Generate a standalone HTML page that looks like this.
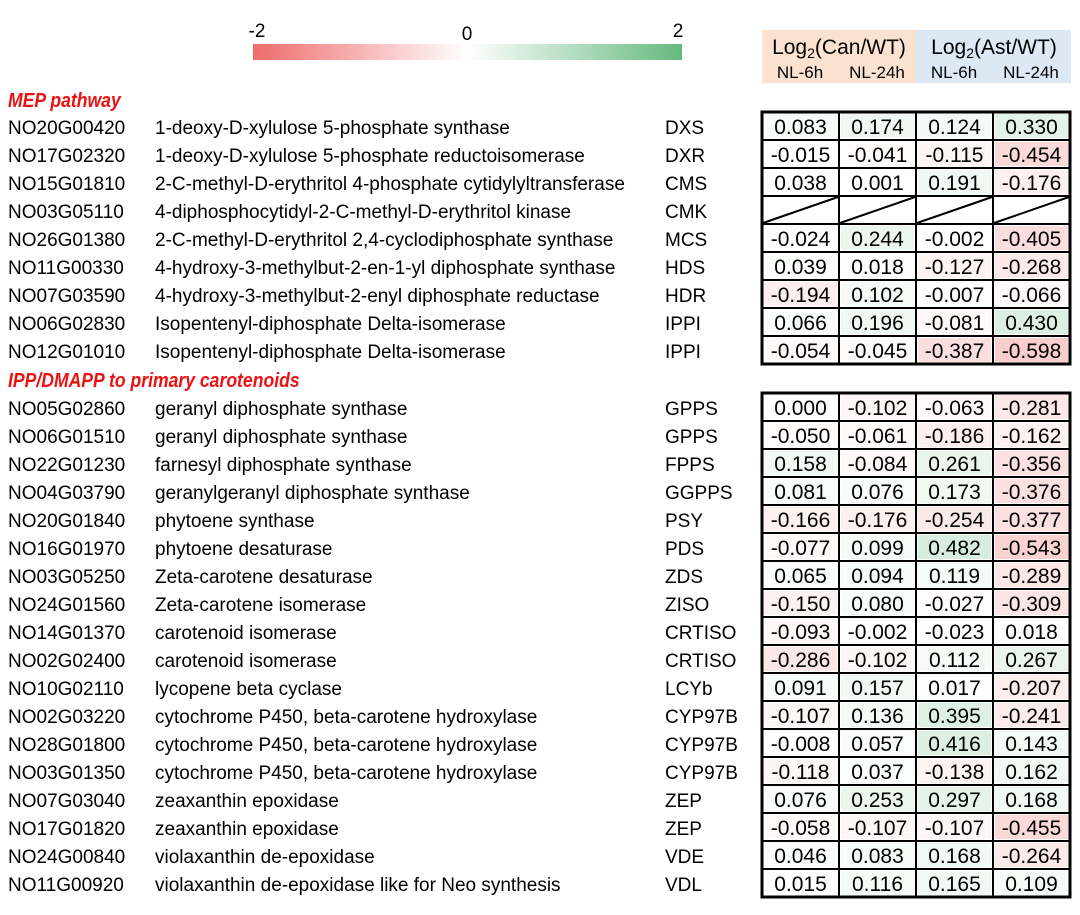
<!DOCTYPE html>
<html><head><meta charset="utf-8"><style>
html,body{margin:0;padding:0;background:#fff;}
body{width:1080px;height:910px;overflow:hidden;position:relative;font-family:"Liberation Sans",Arial,sans-serif;}
svg text{font-family:"Liberation Sans",Arial,sans-serif;}
</style></head><body>
<svg id="chart" width="1080" height="910" viewBox="0 0 1080 910" xmlns="http://www.w3.org/2000/svg">
<defs>
<linearGradient id="cbgrad" x1="0" x2="1" y1="0" y2="0">
<stop offset="0" stop-color="#ef6b6b"/><stop offset="0.5" stop-color="#ffffff"/><stop offset="1" stop-color="#66b97e"/>
</linearGradient>
</defs>
<g>
<rect x="253" y="44" width="429" height="16" fill="url(#cbgrad)"/>
<text x="257" y="37" font-size="19" text-anchor="middle">-2</text>
<text x="467" y="40" font-size="19" text-anchor="middle">0</text>
<text x="678" y="37" font-size="19" text-anchor="middle">2</text>
</g>
<g>
<rect x="762" y="30" width="154" height="53" fill="#fbe2d0"/>
<rect x="916" y="30" width="155" height="53" fill="#dde8f5"/>
<text x="839" y="54" font-size="21" text-anchor="middle">Log<tspan font-size="14" dy="4">2</tspan><tspan dy="-4">(Can/WT)</tspan></text>
<text x="994" y="54" font-size="21" text-anchor="middle">Log<tspan font-size="14" dy="4">2</tspan><tspan dy="-4">(Ast/WT)</tspan></text>
<text x="800" y="78" font-size="17" text-anchor="middle">NL-6h</text>
<text x="877" y="78" font-size="17" text-anchor="middle">NL-24h</text>
<text x="954" y="78" font-size="17" text-anchor="middle">NL-6h</text>
<text x="1031" y="78" font-size="17" text-anchor="middle">NL-24h</text>
</g>
<g id="content"></g>
</svg>
<script>
const mepIds = ["NO20G00420","NO17G02320","NO15G01810","NO03G05110","NO26G01380","NO11G00330","NO07G03590","NO06G02830","NO12G01010"];
const mepDesc = ["1-deoxy-D-xylulose 5-phosphate synthase","1-deoxy-D-xylulose 5-phosphate reductoisomerase","2-C-methyl-D-erythritol 4-phosphate cytidylyltransferase","4-diphosphocytidyl-2-C-methyl-D-erythritol kinase","2-C-methyl-D-erythritol 2,4-cyclodiphosphate synthase","4-hydroxy-3-methylbut-2-en-1-yl diphosphate synthase","4-hydroxy-3-methylbut-2-enyl diphosphate reductase","Isopentenyl-diphosphate Delta-isomerase","Isopentenyl-diphosphate Delta-isomerase"];
const mepGenes = ["DXS","DXR","CMS","CMK","MCS","HDS","HDR","IPPI","IPPI"];
const mepCan6 = [0.083,-0.015,0.038,null,-0.024,0.039,-0.194,0.066,-0.054];
const mepCan24 = [0.174,-0.041,0.001,null,0.244,0.018,0.102,0.196,-0.045];
const mepAst6 = [0.124,-0.115,0.191,null,-0.002,-0.127,-0.007,-0.081,-0.387];
const mepAst24 = [0.330,-0.454,-0.176,null,-0.405,-0.268,-0.066,0.430,-0.598];

const carIds = ["NO05G02860","NO06G01510","NO22G01230","NO04G03790","NO20G01840","NO16G01970","NO03G05250","NO24G01560","NO14G01370","NO02G02400","NO10G02110","NO02G03220","NO28G01800","NO03G01350","NO07G03040","NO17G01820","NO24G00840","NO11G00920"];
const carDesc = ["geranyl diphosphate synthase","geranyl diphosphate synthase","farnesyl diphosphate synthase","geranylgeranyl diphosphate synthase","phytoene synthase","phytoene desaturase","Zeta-carotene desaturase","Zeta-carotene isomerase","carotenoid isomerase","carotenoid isomerase","lycopene beta cyclase","cytochrome P450, beta-carotene hydroxylase","cytochrome P450, beta-carotene hydroxylase","cytochrome P450, beta-carotene hydroxylase","zeaxanthin epoxidase","zeaxanthin epoxidase","violaxanthin de-epoxidase","violaxanthin de-epoxidase like for Neo synthesis"];
const carGenes = ["GPPS","GPPS","FPPS","GGPPS","PSY","PDS","ZDS","ZISO","CRTISO","CRTISO","LCYb","CYP97B","CYP97B","CYP97B","ZEP","ZEP","VDE","VDL"];
const carCan6 = [0.000,-0.050,0.158,0.081,-0.166,-0.077,0.065,-0.150,-0.093,-0.286,0.091,-0.107,-0.008,-0.118,0.076,-0.058,0.046,0.015];
const carCan24 = [-0.102,-0.061,-0.084,0.076,-0.176,0.099,0.094,0.080,-0.002,-0.102,0.157,0.136,0.057,0.037,0.253,-0.107,0.083,0.116];
const carAst6 = [-0.063,-0.186,0.261,0.173,-0.254,0.482,0.119,-0.027,-0.023,0.112,0.017,0.395,0.416,-0.138,0.297,-0.107,0.168,0.165];
const carAst24 = [-0.281,-0.162,-0.356,-0.376,-0.377,-0.543,-0.289,-0.309,0.018,0.267,-0.207,-0.241,0.143,0.162,0.168,-0.455,-0.264,0.109];

const NS = "http://www.w3.org/2000/svg";
const root = document.getElementById("content");
const colX = [762, 839, 916, 993, 1070];
const rowH = 28;
function colorFor(v){
  if (v === null) return "#ffffff";
  const a = Math.min(1, Math.abs(v) * 0.5);
  const c = v < 0 ? [232, 88, 88] : [90, 180, 120];
  const m = c.map(k => Math.round(255 - a * (255 - k)));
  return "rgb(" + m.join(",") + ")";
}
function mk(tag, attrs, parent){
  const e = document.createElementNS(NS, tag);
  for (const k in attrs) e.setAttribute(k, attrs[k]);
  parent.appendChild(e);
  return e;
}
function section(title, titleY, top, ids, desc, genes, cols, key){
  const g = mk("g", {}, root);
  
  
  const t = mk("text", {x: 8, y: titleY, "font-size": 20, "font-weight": "bold", "font-style": "italic", fill: "#ee1111", transform: "translate(8 0) scale(0.88 1) translate(-8 0)"}, g);
  t.textContent = title;
  
  
  const n = ids.length;
  for (let i = 0; i < n; i++){
    const cy = top + rowH * i + rowH / 2;
    const row = mk("g", {}, g);
    
    
    const a = mk("text", {x: 8, y: cy + 8, "font-size": 19}, row); a.textContent = ids[i];
    
    
    const b = mk("text", {x: 155, y: cy + 8, "font-size": 19}, row); b.textContent = desc[i];
    
    
    const c = mk("text", {x: 665, y: cy + 8, "font-size": 19}, row); c.textContent = genes[i];
    
    
    for (let j = 0; j < 4; j++){
      const v = cols[j][i];
      const x0 = colX[j], x1 = colX[j + 1], y0 = top + rowH * i;
      const r = mk("rect", {x: x0 + 2, y: y0 + 2, width: x1 - x0 - 4, height: rowH - 4, fill: colorFor(v)}, row);
      
      
      if (v === null){
        const l = mk("line", {x1: x0 + 1, y1: y0 + rowH - 1, x2: x1 - 1, y2: y0 + 1, stroke: "#000", "stroke-width": 2}, row);
        
        
      } else {
        const tv = mk("text", {x: (x0 + x1) / 2, y: cy + 8, "font-size": 21, "text-anchor": "middle"}, row);
        tv.textContent = v.toFixed(3);
        
        
      }
    }
  }
  const bottom = top + rowH * n;
  for (let i = 1; i < n; i++){
    mk("line", {x1: colX[0], x2: colX[4], y1: top + rowH * i, y2: top + rowH * i, stroke: "#000", "stroke-width": 2}, g);
  }
  for (let j = 1; j < 4; j++){
    mk("line", {x1: colX[j], x2: colX[j], y1: top, y2: bottom, stroke: "#000", "stroke-width": 2}, g);
  }
  const o = mk("rect", {x: colX[0], y: top, width: colX[4] - colX[0], height: bottom - top, fill: "none", stroke: "#000", "stroke-width": 3}, g);
  
  
}
section("MEP pathway", 107, 112, mepIds, mepDesc, mepGenes, [mepCan6, mepCan24, mepAst6, mepAst24], "mep");
section("IPP/DMAPP to primary carotenoids", 387, 393, carIds, carDesc, carGenes, [carCan6, carCan24, carAst6, carAst24], "carotenoid");
</script>
</body></html>
